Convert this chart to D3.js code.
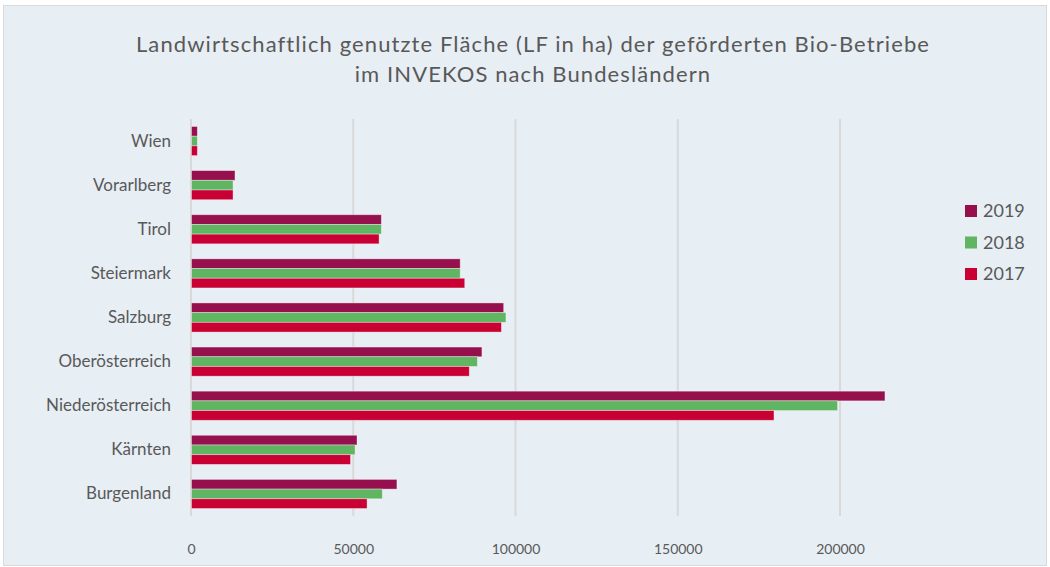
<!DOCTYPE html>
<html>
<head>
<meta charset="utf-8">
<script src="https://cdn.jsdelivr.net/npm/d3@7"></script>
<style>
  body { margin: 0; background: #fff; }
  text { font-family: Lato, "Open Sans", sans-serif; fill: #595959; }
</style>
</head>
<body>
<div id="chart"></div>
<script>
// data
var laender = ["Wien", "Vorarlberg", "Tirol", "Steiermark", "Salzburg",
               "Oberösterreich", "Niederösterreich", "Kärnten", "Burgenland"];
var jahre = ["2019", "2018", "2017"];
var werte2019 = [1800, 13400, 58500, 82800, 96200, 89500, 213700, 51000, 63300];
var werte2018 = [1800, 12800, 58500, 82800, 96900, 88100, 199100, 50400, 58800];
var werte2017 = [1800, 12800, 57800, 84200, 95500, 85600, 179500, 49000, 54100];
var tickWerte = [0, 50000, 100000, 150000, 200000];
var farben = ["#96104e", "#5fb562", "#c80034"];

var reihen = [werte2019, werte2018, werte2017];

var width = 1050, height = 567;
var svg = d3.select("#chart").append("svg")
    .attr("width", width)
    .attr("height", height);

// frame
svg.append("rect")
    .attr("x", 3.5).attr("y", 5.5)
    .attr("width", 1043).attr("height", 560)
    .attr("fill", "#e7eef4")
    .attr("stroke", "#d9d9d9")
    .attr("stroke-width", 1);

// title
var title = svg.append("text")
    .attr("text-anchor", "middle")
    .style("font-size", "22px")
    .style("letter-spacing", "1.1px");
title.append("tspan").attr("x", 533).attr("y", 52)
    .text("Landwirtschaftlich genutzte Fläche (LF in ha) der geförderten Bio-Betriebe");
title.append("tspan").attr("x", 533).attr("y", 82)
    .text("im INVEKOS nach Bundesländern");

var x = d3.scaleLinear()
    .domain([0, 200000])
    .range([191, 840]);

var y = d3.scaleBand()
    .domain(laender)
    .range([119, 516])
    .paddingInner(0.34)
    .paddingOuter(0.17);

var yInner = d3.scaleBand()
    .domain(jahre)
    .range([0, y.bandwidth()]);

// grid
svg.append("g").selectAll("line")
    .data(tickWerte)
    .enter()
    .append("line")
    .attr("x1", function(d) { return x(d); })
    .attr("x2", function(d) { return x(d); })
    .attr("y1", 119)
    .attr("y2", 516)
    .attr("stroke", "#d9d9d9")
    .attr("stroke-width", 2);

// x axis labels
var xAxis = d3.axisBottom(x)
    .tickValues(tickWerte)
    .tickFormat(d3.format("d"))
    .tickSize(0)
    .tickPadding(0);
var gx = svg.append("g")
    .attr("transform", "translate(0,544)")
    .call(xAxis);
gx.select(".domain").remove();
gx.selectAll("text")
    .style("font-size", "14px")
    .style("font-family", "Lato, 'Open Sans', sans-serif")
    .attr("fill", "#595959");

// y axis labels
var yAxis = d3.axisLeft(y).tickSize(0).tickPadding(0);
var gy = svg.append("g")
    .attr("transform", "translate(171,0)")
    .call(yAxis);
gy.select(".domain").remove();
gy.selectAll("text")
    .style("font-size", "17px")
    .style("font-family", "Lato, 'Open Sans', sans-serif")
    .attr("fill", "#595959");

// bars
reihen.forEach(function(werte, i) {
    svg.append("g").selectAll("rect")
        .data(werte)
        .enter()
        .append("rect")
        .attr("x", x(0) + 0.5)
        .attr("y", function(d, j) { return y(laender[j]) + yInner(jahre[i]); })
        .attr("width", function(d) { return x(d) - x(0); })
        .attr("height", yInner.bandwidth())
        .attr("fill", farben[i])
        .attr("stroke", "rgba(255,255,255,0.45)")
        .attr("stroke-width", 0.8);
});

// legend
var legend = svg.append("g").selectAll("g")
    .data(jahre)
    .enter()
    .append("g")
    .attr("transform", function(d, i) { return "translate(965," + (205 + i * 31.5) + ")"; });
legend.append("rect")
    .attr("width", 12).attr("height", 12)
    .attr("fill", function(d, i) { return farben[i]; });
legend.append("text")
    .attr("x", 18).attr("y", 12)
    .style("font-size", "18px")
    .text(function(d) { return d; });
</script>
</body>
</html>
